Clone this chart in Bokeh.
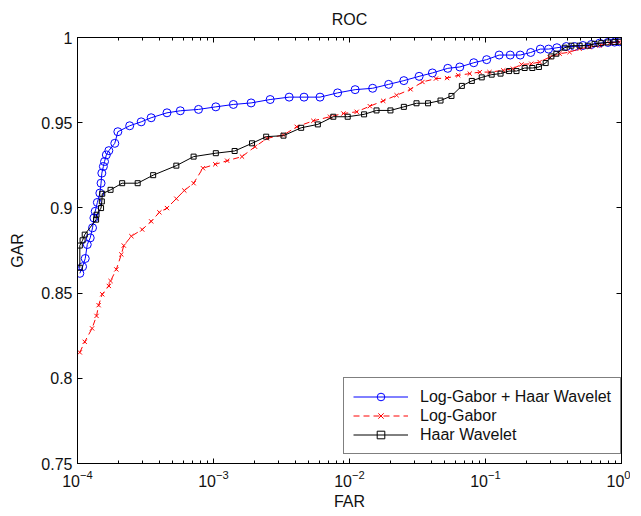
from bokeh.plotting import figure
from bokeh.models import (LogAxis, LinearAxis, FixedTicker, CustomJSTickFormatter,
                          Legend, LegendItem, LogTickFormatter)
from bokeh.embed import file_html
from bokeh.resources import INLINE

# ---- data ----
far_both = [1.04e-4, 1.09e-4, 1.14e-4, 1.18e-4, 1.24e-4, 1.29e-4, 1.32e-4, 1.35e-4, 1.40e-4, 1.46e-4,
            1.49e-4, 1.51e-4, 1.55e-4, 1.58e-4, 1.63e-4, 1.70e-4, 1.88e-4, 1.98e-4, 2.42e-4, 2.94e-4,
            3.48e-4, 4.55e-4, 5.70e-4, 7.76e-4, 1.04e-3, 1.40e-3, 1.89e-3, 2.61e-3, 3.60e-3, 4.63e-3,
            6.07e-3, 8.18e-3, 1.10e-2, 1.48e-2, 1.94e-2, 2.51e-2, 3.25e-2, 4.07e-2, 5.28e-2, 6.47e-2,
            8.20e-2, 0.102, 0.126, 0.152, 0.180, 0.215, 0.253, 0.291, 0.335, 0.393,
            0.452, 0.520, 0.600, 0.690, 0.794, 0.889, 0.966]
gar_both = [0.8616, 0.8655, 0.8703, 0.8785, 0.8824, 0.8883, 0.8941, 0.8980, 0.9032, 0.9087,
            0.9145, 0.9204, 0.9243, 0.9272, 0.9311, 0.9336, 0.9379, 0.9447, 0.9482, 0.9505,
            0.9529, 0.9558, 0.9570, 0.9578, 0.9593, 0.9607, 0.9616, 0.9636, 0.9650, 0.9650,
            0.9650, 0.9675, 0.9694, 0.9702, 0.9725, 0.9747, 0.9772, 0.9792, 0.9819, 0.9827,
            0.9852, 0.9870, 0.9897, 0.9897, 0.9897, 0.9912, 0.9932, 0.9932, 0.9940, 0.9947,
            0.9947, 0.9953, 0.9959, 0.9967, 0.9971, 0.9973, 0.9975]

far_gabor = [1.04e-4, 1.13e-4, 1.28e-4, 1.38e-4, 1.43e-4, 1.52e-4, 1.70e-4, 1.75e-4, 1.93e-4, 2.10e-4,
             2.19e-4, 2.49e-4, 2.99e-4, 3.48e-4, 4.00e-4, 4.55e-4, 5.33e-4, 6.10e-4, 7.14e-4, 8.36e-4,
             1.03e-3, 1.26e-3, 1.62e-3, 2.02e-3, 2.47e-3, 3.27e-3, 4.09e-3, 5.42e-3, 7.19e-3, 9.02e-3,
             1.13e-2, 1.41e-2, 1.77e-2, 2.22e-2, 2.81e-2, 3.44e-2, 4.32e-2, 5.22e-2, 6.30e-2, 7.66e-2,
             9.08e-2, 0.107, 0.135, 0.159, 0.184, 0.217, 0.250, 0.296, 0.351, 0.415,
             0.492, 0.582, 0.690, 0.817, 0.966]
gar_gabor = [0.8152, 0.8214, 0.8293, 0.8366, 0.8429, 0.8493, 0.8542, 0.8571, 0.8639, 0.8727,
             0.8779, 0.8834, 0.8873, 0.8921, 0.8974, 0.8999, 0.9054, 0.9102, 0.9145, 0.9233,
             0.9256, 0.9277, 0.9301, 0.9359, 0.9408, 0.9428, 0.9476, 0.9511, 0.9535, 0.9554,
             0.9564, 0.9597, 0.9628, 0.9661, 0.9696, 0.9739, 0.9759, 0.9762, 0.9778, 0.9788,
             0.9797, 0.9797, 0.9807, 0.9817, 0.9842, 0.9846, 0.9856, 0.9885, 0.9905, 0.9914,
             0.9934, 0.9943, 0.9953, 0.9967, 0.9973]

far_haar = [1.04e-4, 1.04e-4, 1.09e-4, 1.13e-4, 1.37e-4, 1.38e-4, 1.49e-4, 1.51e-4, 1.52e-4, 1.75e-4,
            2.13e-4, 2.77e-4, 3.60e-4, 5.33e-4, 7.14e-4, 1.04e-3, 1.43e-3, 1.92e-3, 2.44e-3, 3.27e-3,
            4.41e-3, 5.85e-3, 7.60e-3, 9.70e-3, 1.28e-2, 1.58e-2, 2.00e-2, 2.51e-2, 3.11e-2, 3.78e-2,
            4.67e-2, 5.62e-2, 6.70e-2, 7.93e-2, 9.38e-2, 0.111, 0.129, 0.149, 0.169, 0.194,
            0.221, 0.247, 0.277, 0.305, 0.332, 0.382, 0.428, 0.492, 0.566, 0.634,
            0.710, 0.794, 0.889, 0.966]
gar_haar = [0.8649, 0.8779, 0.8810, 0.8843, 0.8931, 0.8960, 0.8999, 0.9038, 0.9083, 0.9106,
            0.9145, 0.9145, 0.9192, 0.9248, 0.9301, 0.9321, 0.9334, 0.9379, 0.9418, 0.9424,
            0.9470, 0.9490, 0.9535, 0.9535, 0.9549, 0.9572, 0.9572, 0.9593, 0.9614, 0.9614,
            0.9630, 0.9657, 0.9716, 0.9745, 0.9766, 0.9782, 0.9788, 0.9803, 0.9803, 0.9821,
            0.9821, 0.9827, 0.9850, 0.9889, 0.9905, 0.9940, 0.9952, 0.9952, 0.9952, 0.9963,
            0.9967, 0.9971, 0.9973, 0.9975]

series_names = ["Log-Gabor + Haar Wavelet", "Log-Gabor", "Haar Wavelet"]

x_ticks = [1e-4, 1e-3, 1e-2, 1e-1, 1.0]
x_minor = [m * 10.0 ** e for e in (-4, -3, -2, -1) for m in range(2, 10)]
y_ticks = [0.75, 0.80, 0.85, 0.90, 0.95, 1.00]
y_tick_labels = ["0.75", "0.8", "0.85", "0.9", "0.95", "1"]

FONT = "Liberation Sans"
FS = "16px"

p = figure(width=630, height=512, x_axis_type="log", x_range=(1e-4, 1.0), y_range=(0.75, 1.0),
           output_backend="svg", toolbar_location=None, title="ROC",
           min_border_left=77, min_border_right=9, min_border_top=37, min_border_bottom=46)
p.background_fill_color = "white"
p.border_fill_color = "white"
p.outline_line_color = "black"
p.grid.visible = False
p.title.align = "center"
p.title.text_font = FONT
p.title.text_font_size = FS
p.title.text_font_style = "normal"
p.title.text_color = "#111111"
p.title.standoff = 9

xt = FixedTicker(ticks=x_ticks, minor_ticks=x_minor)
yt = FixedTicker(ticks=y_ticks)
yfmt = CustomJSTickFormatter(args=dict(tvals=y_ticks, tlabels=y_tick_labels), code="""
    for (let i = 0; i < tvals.length; i++) { if (Math.abs(tvals[i] - tick) < 1e-9) return tlabels[i]; }
    return "";
""")
blank = CustomJSTickFormatter(code="return ' ';")

def style(ax, labels=True):
    ax.axis_line_color = "black"
    ax.major_tick_line_color = "black"
    ax.minor_tick_line_color = "black"
    ax.major_tick_in = 5
    ax.major_tick_out = 0
    ax.minor_tick_in = 3
    ax.minor_tick_out = 0
    ax.major_label_text_font = FONT
    ax.major_label_text_font_size = FS if labels else "2px"
    ax.major_label_text_color = "#111111"
    ax.axis_label_text_font = FONT
    ax.axis_label_text_font_size = FS
    ax.axis_label_text_font_style = "normal"
    ax.axis_label_text_color = "#111111"

xa = p.xaxis[0]
xa.ticker = xt
xa.formatter = LogTickFormatter()
xa.axis_label = "FAR"
xa.major_label_standoff = 6
xa.axis_label_standoff = 3
style(xa)

ya = p.yaxis[0]
ya.ticker = yt
ya.formatter = yfmt
ya.axis_label = "GAR"
ya.major_label_standoff = 5
ya.axis_label_standoff = 12
style(ya)
ya.minor_tick_in = 0

top = LogAxis(ticker=xt, formatter=blank, major_label_standoff=0)
style(top, labels=False)
p.add_layout(top, "above")
right = LinearAxis(ticker=yt, formatter=blank, major_label_standoff=0)
style(right, labels=False)
right.minor_tick_in = 0
p.add_layout(right, "right")

l1 = p.line(far_both, gar_both, line_color="#0000ff", line_width=1)
s1 = p.scatter(far_both, gar_both, marker="circle", size=8, line_color="#0000ff",
               fill_color=None, line_width=1)
l2 = p.line(far_gabor, gar_gabor, line_color="#ff0000", line_width=1, line_dash="6 4")
s2 = p.scatter(far_gabor, gar_gabor, marker="x", size=6, line_color="#ff0000", line_width=1)
l3 = p.line(far_haar, gar_haar, line_color="#000000", line_width=1)
s3 = p.scatter(far_haar, gar_haar, marker="square", size=5, line_color="#000000",
               fill_color=None, line_width=1)

legend = Legend(items=[LegendItem(label=series_names[0], renderers=[l1, s1]),
                       LegendItem(label=series_names[1], renderers=[l2, s2]),
                       LegendItem(label=series_names[2], renderers=[l3, s3])],
                location=(266, 9), padding=9, spacing=0, margin=0,
                glyph_width=55, glyph_height=19, label_height=19, label_standoff=12,
                label_text_font=FONT, label_text_font_size=FS, label_text_color="#111111",
                border_line_color="black", border_line_width=1, background_fill_color="white",
                background_fill_alpha=1.0)
p.add_layout(legend, "center")

open("out.html", "w").write(file_html(p, INLINE))
